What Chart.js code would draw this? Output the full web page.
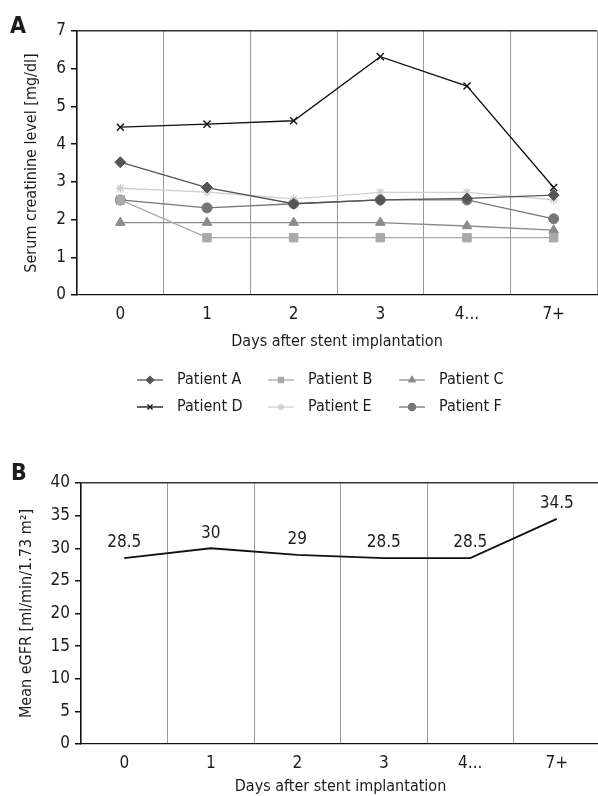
<!DOCTYPE html>
<html>
<head>
<meta charset="utf-8">
<script src="https://cdn.jsdelivr.net/npm/chart.js@4.4.1/dist/chart.umd.min.js"></script>
<style>
  body { margin: 0; background: #fff; overflow: hidden; width: 598px; height: 796px; position: relative; }
  #wrapA { position: absolute; left: 0; top: 0; width: 604px; height: 440px; }
  #wrapB { position: absolute; left: 0; top: 440px; width: 604px; height: 356px; }
</style>
</head>
<body>
<div id="wrapA"><canvas id="chartA"></canvas></div>
<div id="wrapB"><canvas id="chartB"></canvas></div>
<script>
// categories + values
const days = ['0', '1', '2', '3', '4...', '7+'];
const patientA = [3.52, 2.85, 2.42, 2.52, 2.56, 2.65];
const patientB = [2.52, 1.52, 1.52, 1.52, 1.52, 1.52];
const patientC = [1.92, 1.92, 1.92, 1.92, 1.83, 1.72];
const patientD = [4.45, 4.53, 4.62, 6.32, 5.54, 2.85];
const patientE = [2.83, 2.73, 2.55, 2.72, 2.72, 2.52];
const patientF = [2.52, 2.31, 2.42, 2.52, 2.52, 2.02];
const meanEGFR = [28.5, 30, 29, 28.5, 28.5, 34.5];

const FONT = "'Liberation Sans Narrow', 'DejaVu Sans Condensed', sans-serif";
Chart.defaults.font.family = FONT;
Chart.defaults.font.size = 16;
Chart.defaults.color = '#1c1c1c';

/**
 * Panel letter (A / B) in the top-left corner
 */
function panelLetter(letter, x, y) {
    return {
        id: 'panelLetter' + letter,
        afterDraw(chart) {
            const ctx = chart.ctx;
            ctx.save();
            ctx.font = "bold 23px " + FONT;
            ctx.fillStyle = '#1c1c1c';
            ctx.textAlign = 'center';
            ctx.textBaseline = 'middle';
            ctx.fillText(letter, x, y);
            ctx.restore();
        }
    };
}

// legend in 3 fixed columns: line + marker + label
const gridLegend = {
    id: 'gridLegend',
    afterDraw(chart) {
        const ctx = chart.ctx;
        chart.data.datasets.forEach((ds, i) => {
            const col = i % 3, row = Math.floor(i / 3);
            const x0 = 137 + col * 131;
            const y = 380 + row * 27;
            ctx.save();
            ctx.strokeStyle = ds.borderColor;
            ctx.lineWidth = 1.3;
            ctx.beginPath();
            ctx.moveTo(x0, y);
            ctx.lineTo(x0 + 26, y);
            ctx.stroke();
            ctx.fillStyle = ds.pointBackgroundColor;
            ctx.strokeStyle = ds.pointBorderColor;
            Chart.helpers.drawPoint(ctx, {
                pointStyle: ds.pointStyle,
                radius: 3.6,
                borderWidth: 1,
                rotation: 0
            }, x0 + 13, y);
            ctx.font = "16px " + FONT;
            ctx.fillStyle = '#1c1c1c';
            ctx.textAlign = 'left';
            ctx.textBaseline = 'middle';
            ctx.fillText(ds.label, x0 + 40, y);
            ctx.restore();
        });
    }
};

// value labels above the eGFR points
const valueLabels = {
    id: 'valueLabels',
    afterDatasetsDraw(chart) {
        const ctx = chart.ctx;
        const meta = chart.getDatasetMeta(0);
        const vals = chart.data.datasets[0].data;
        ctx.save();
        ctx.font = "17px " + FONT;
        ctx.fillStyle = '#1c1c1c';
        ctx.textAlign = 'center';
        ctx.textBaseline = 'middle';
        meta.data.forEach((pt, i) => ctx.fillText(String(vals[i]), pt.x, pt.y - 15));
        ctx.restore();
    }
};

function patient(label, data, color, style, radius) {
    return {
        label: label,
        data: data,
        borderColor: color,
        backgroundColor: color,
        pointBackgroundColor: color,
        pointBorderColor: color,
        pointStyle: style,
        pointRadius: radius,
        pointBorderWidth: style === 'crossRot' || style === 'star' ? 1.4 : 1,
        borderWidth: 1.3,
        tension: 0
    };
}

function axisOptions(yMax, yStep, yTitle, yWidth, xHeight, yTitlePad) {
    return {
        x: {
            offset: true,
            grid: { offset: true, color: '#9a9a9a', lineWidth: 1, drawTicks: false },
            border: { color: '#111', width: 1.3 },
            ticks: { padding: 9, color: '#1c1c1c', font: { size: 17 } },
            title: { display: true, text: 'Days after stent implantation', color: '#1c1c1c', padding: 0 },
            afterFit: s => { s.height = xHeight; }
        },
        y: {
            min: 0,
            max: yMax,
            ticks: { stepSize: yStep, padding: 5, color: '#1c1c1c', font: { size: 17 } },
            grid: {
                color: c => (c.tick && c.tick.value === yMax) ? '#333' : 'rgba(0,0,0,0)',
                lineWidth: 1.5,
                tickColor: '#111',
                tickLength: 6
            },
            border: { color: '#111', width: 1.3 },
            title: { display: true, text: yTitle, color: '#1c1c1c', padding: { top: yTitlePad, bottom: 0 } },
            afterFit: s => { s.width = yWidth; }
        }
    };
}

new Chart(document.getElementById('chartA'), {
    type: 'line',
    data: {
        labels: days,
        datasets: [
            patient('Patient A', patientA, '#555555', 'rectRot', 5.5),
            patient('Patient B', patientB, '#a9a9a9', 'rect', 6),
            patient('Patient C', patientC, '#8a8a8a', 'triangle', 5.5),
            patient('Patient D', patientD, '#111111', 'crossRot', 5),
            patient('Patient E', patientE, '#cfcfcf', 'star', 4.5),
            patient('Patient F', patientF, '#767676', 'circle', 5)
        ]
    },
    options: {
        responsive: true,
        maintainAspectRatio: false,
        animation: false,
        layout: { padding: { left: 0, right: 4, top: 31, bottom: 89 } },
        plugins: { legend: { display: false }, tooltip: { enabled: false } },
        scales: axisOptions(7, 1, 'Serum creatinine level [mg/dl]', 77, 56, 22)
    },
    plugins: [gridLegend, panelLetter('A', 18, 27)]
});

new Chart(document.getElementById('chartB'), {
    type: 'line',
    data: {
        labels: days,
        datasets: [{
            label: 'Mean eGFR',
            data: meanEGFR,
            borderColor: '#111',
            borderWidth: 1.8,
            pointRadius: 0,
            tension: 0
        }]
    },
    options: {
        responsive: true,
        maintainAspectRatio: false,
        animation: false,
        layout: { padding: { left: 0, right: 4, top: 43, bottom: 0 } },
        plugins: { legend: { display: false }, tooltip: { enabled: false } },
        scales: axisOptions(40, 5, 'Mean eGFR [ml/min/1.73 m\u00b2]', 81, 52, 17)
    },
    plugins: [valueLabels, panelLetter('B', 19, 34)]
});
</script>
</body>
</html>
